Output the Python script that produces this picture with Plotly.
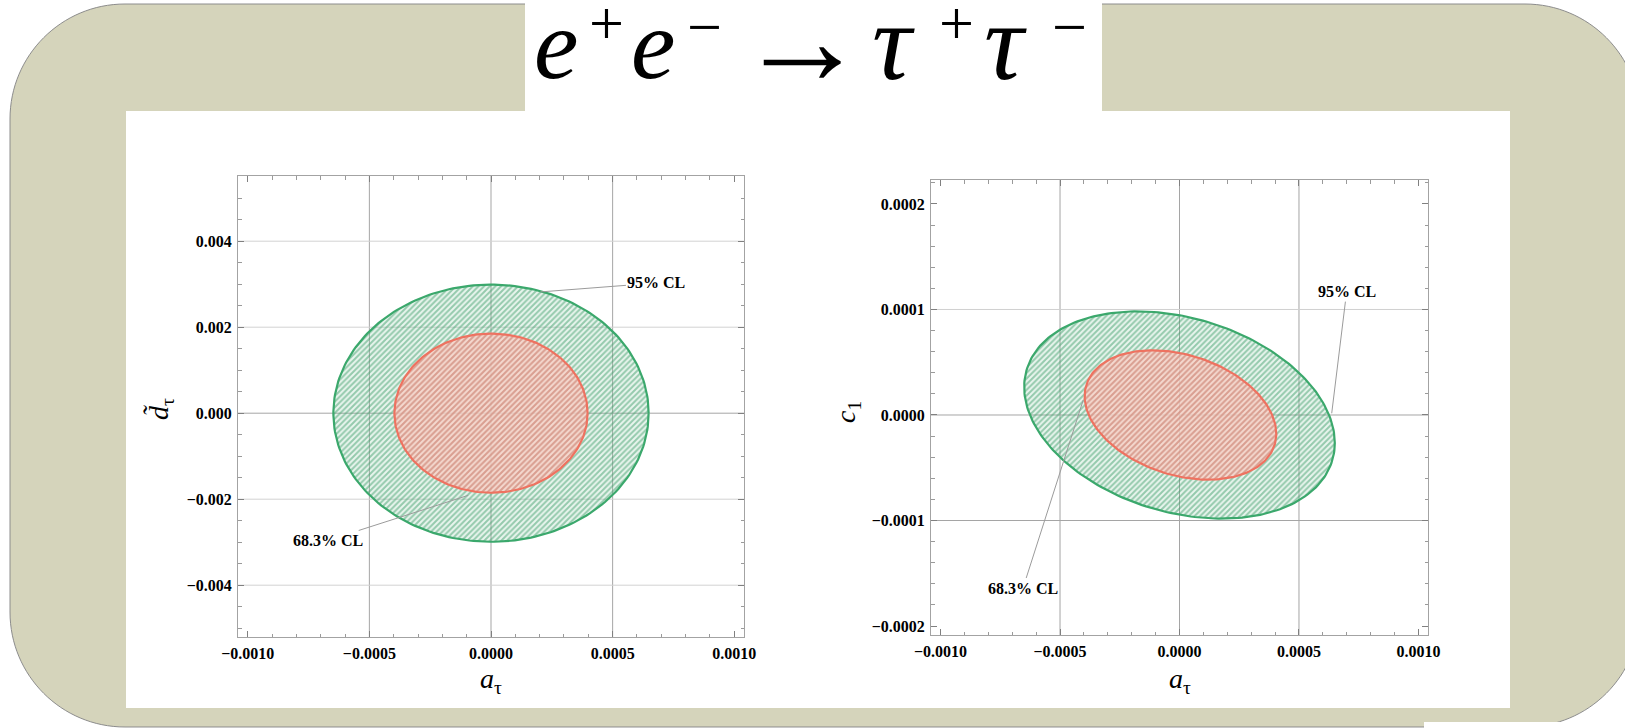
import numpy as np
import plotly.graph_objects as go

W, H = 1625, 728

# ---------------------------------------------------------------- data
levels = ["95% CL", "68.3% CL"]

# left panel: (a_tau, d_tau) confidence ellipses
left_cx = [0.0, 0.0]
left_cy = [0.0, 0.0]
left_half_x = [0.000648, 0.000397]
left_half_y = [0.00299, 0.00185]
left_rho = [0.0, 0.0]

# right panel: (a_tau, c_1) confidence ellipses
right_cx = [0.0, 0.000004]
right_cy = [0.0, 0.0]
right_half_x = [0.00065, 0.000401]
right_half_y = [0.0000982, 0.0000613]
right_rho = [-0.27, -0.29]

# label text positions and the contour points their leader lines touch
left_text_x = [0.00068, -0.000672]
left_text_y = [0.003028, -0.00296]
left_tip_x = [0.000203, -0.0000934]
left_tip_y = [0.00282, -0.00191]

right_text_x = [0.0006995, -0.000655]
right_text_y = [0.0001169, -0.000164]
right_tip_x = [0.000637, -0.000403]
right_tip_y = [0.0000016, 0.0000142]

# axes
left_x_range = [-0.00104, 0.00104]
left_y_range = [-0.005205, 0.005516]
right_x_range = [-0.00104, 0.00104]
right_y_range = [-0.0002085, 0.0002227]

x_ticks = [-0.001, -0.0005, 0.0, 0.0005, 0.001]
left_y_ticks = [-0.004, -0.002, 0.0, 0.002, 0.004]
right_y_ticks = [-0.0002, -0.0001, 0.0, 0.0001, 0.0002]

x_grid = [-0.0005, 0.0, 0.0005]
left_y_grid = [-0.004, -0.002, 0.0, 0.002, 0.004]
right_y_grid = [-0.0001, 0.0, 0.0001]

# slide title, one glyph per entry
title_glyphs = ["<i>e</i>", "+", "<i>e</i>", "\u2212", "\u2192",
                "<i>\u03c4</i>", "+", "<i>\u03c4</i>", "\u2212"]
title_x = [556, 606, 653, 704, 802, 893, 956, 1005, 1069]
title_y = [44, 23, 44, 27, 40, 42, 23, 42, 27]
title_size = [100, 62, 100, 62, 130, 110, 62, 110, 62]

# ---------------------------------------------------------------- style
BEIGE = "#d5d4bb"
GREEN = "#3ba86c"
RED = "#ee7260"
SERIF = "Liberation Serif"


def px(x):
    return x / W


def py(y):
    return 1 - y / H


def ellipse(cx, cy, hx, hy, rho, n=240):
    t = np.linspace(0, 2 * np.pi, n)
    x = cx + hx * np.cos(t)
    y = cy + hy * (rho * np.cos(t) + np.sqrt(1 - rho ** 2) * np.sin(t))
    return x, y


def rounded_rect_path(l, t, r, b, rad):
    k = 0.5523 * rad
    pts = [
        ("M", [(l + rad, t)]),
        ("L", [(r - rad, t)]),
        ("C", [(r - rad + k, t), (r, t + rad - k), (r, t + rad)]),
        ("L", [(r, b - rad)]),
        ("C", [(r, b - rad + k), (r - rad + k, b), (r - rad, b)]),
        ("L", [(l + rad, b)]),
        ("C", [(l + rad - k, b), (l, b - rad + k), (l, b - rad)]),
        ("L", [(l, t + rad)]),
        ("C", [(l, t + rad - k), (l + rad - k, t), (l + rad, t)]),
    ]
    s = ""
    for cmd, ps in pts:
        s += cmd + " " + " ".join(f"{px(a):.6f},{py(c):.6f}" for a, c in ps) + " "
    return s + "Z"


fig = go.Figure()

green_pattern = dict(shape="/", size=4, solidity=0.5, fgcolor="#3f9f6b",
                     bgcolor="rgba(120,195,150,0.16)")
red_pattern = dict(shape="/", size=4, solidity=0.5, fgcolor="#d06b5e",
                   bgcolor="rgba(248,210,200,0.80)")

panels = [
    ("x", "y", left_cx, left_cy, left_half_x, left_half_y, left_rho),
    ("x2", "y2", right_cx, right_cy, right_half_x, right_half_y, right_rho),
]
for xa, ya, cxs, cys, hxs, hys, rhos in panels:
    for i, name in enumerate(levels):
        ex, ey = ellipse(cxs[i], cys[i], hxs[i], hys[i], rhos[i])
        fig.add_trace(go.Scatter(
            x=ex, y=ey, mode="lines", name=name, xaxis=xa, yaxis=ya,
            fill="toself", fillcolor="rgba(0,0,0,0)",
            fillpattern=green_pattern if i == 0 else red_pattern,
            line=dict(color=GREEN if i == 0 else RED, width=2.2),
            hoverinfo="skip", showlegend=False,
        ))

shapes = []
# slide background
shapes.append(dict(type="path", xref="paper", yref="paper", layer="below",
                   path=rounded_rect_path(10, 4, 1640, 727, 115),
                   fillcolor=BEIGE, line=dict(color="#8c8c8c", width=1)))
# white title box, figure panel, and corner strip
for x0, y0, x1, y1 in [(525, -2, 1102, 111), (126, 111, 1510, 708),
                       (1424, 722, 1630, 732)]:
    shapes.append(dict(type="rect", xref="paper", yref="paper", layer="below",
                       x0=px(x0), x1=px(x1), y0=py(y1), y1=py(y0),
                       fillcolor="white", line=dict(width=0)))

# grid lines
for xa, ya, ygrid in [("x", "y", left_y_grid), ("x2", "y2", right_y_grid)]:
    for gx in x_grid:
        shapes.append(dict(type="line", xref=xa, yref=ya + " domain", layer="below",
                           x0=gx, x1=gx, y0=0, y1=1,
                           line=dict(color="#a5a5a5", width=1)))
    for gy in ygrid:
        col = "#a5a5a5" if gy <= 0 else "#d0d0d0"
        if xa == "x" and gy != 0:
            col = "#d3d3d3"
        shapes.append(dict(type="line", xref=xa + " domain", yref=ya, layer="below",
                           x0=0, x1=1, y0=gy, y1=gy,
                           line=dict(color=col, width=1)))

annotations = []
label_font = dict(family=SERIF, size=16, color="black", weight="bold")
for xa, ya, tx, ty, hx, hy in [("x", "y", left_text_x, left_text_y, left_tip_x, left_tip_y),
                               ("x2", "y2", right_text_x, right_text_y, right_tip_x, right_tip_y)]:
    for i, name in enumerate(levels):
        annotations.append(dict(
            xref=xa, yref=ya, axref=xa, ayref=ya,
            x=hx[i], y=hy[i], ax=tx[i], ay=ty[i], text=name,
            showarrow=True, arrowhead=0, arrowwidth=1, arrowcolor="#9b9b9b",
            standoff=0, startstandoff=0, font=label_font,
        ))

# title
for g, gx, gy, gs in zip(title_glyphs, title_x, title_y, title_size):
    annotations.append(dict(
        xref="paper", yref="paper", x=px(gx), y=py(gy),
        xanchor="center", yanchor="middle", showarrow=False, text=g,
        font=dict(family=SERIF, size=gs, color="black"),
    ))

# axis titles
title_font = dict(family=SERIF, size=28, color="black")
for xc in (491, 1180):
    annotations.append(dict(xref="paper", yref="paper", x=px(xc), y=py(680),
                            xanchor="center", yanchor="middle", showarrow=False,
                            text="<i>a</i><sub>\u03c4</sub>", font=title_font))
annotations.append(dict(xref="paper", yref="paper", x=px(160), y=py(409),
                        xanchor="center", yanchor="middle", showarrow=False, textangle=-90,
                        text="<i>d\u0303</i><sub>\u03c4</sub>", font=title_font))
annotations.append(dict(xref="paper", yref="paper", x=px(847), y=py(412),
                        xanchor="center", yanchor="middle", showarrow=False, textangle=-90,
                        text="<i>c</i><sub>1</sub>", font=title_font))

tick_font = dict(family=SERIF, size=16, color="black", weight="bold")


def axis(domain, rng, tickvals, fmt, minor_dtick):
    return dict(
        domain=domain, range=rng, tickmode="array", tickvals=tickvals, tickformat=fmt,
        ticks="inside", ticklen=6, tickwidth=1, tickcolor="#808080",
        showline=True, linecolor="#a3a3a3", linewidth=1, mirror="ticks",
        showgrid=False, zeroline=False, tickfont=tick_font, ticklabelstandoff=2,
        automargin=False,
        minor=dict(tick0=0, dtick=minor_dtick, ticks="inside", ticklen=3.5,
                   tickcolor="#9a9a9a", showgrid=False),
        fixedrange=True,
    )


fig.update_layout(
    width=W, height=H, autosize=False,
    margin=dict(l=0, r=0, t=0, b=0, pad=0, autoexpand=False),
    paper_bgcolor="white", plot_bgcolor="rgba(0,0,0,0)", showlegend=False,
    xaxis=axis([px(238), px(744)], left_x_range, x_ticks, ".4f", 0.0001),
    yaxis=axis([py(637), py(176)], left_y_range, left_y_ticks, ".3f", 0.0005),
    xaxis2=axis([px(931), px(1428)], right_x_range, x_ticks, ".4f", 0.0001),
    yaxis2=axis([py(635), py(180)], right_y_range, right_y_ticks, ".4f", 0.00002),
    shapes=shapes, annotations=annotations,
)
fig.update_layout(xaxis2=dict(anchor="y2"), yaxis2=dict(anchor="x2"))

fig.write_html("out.html")
